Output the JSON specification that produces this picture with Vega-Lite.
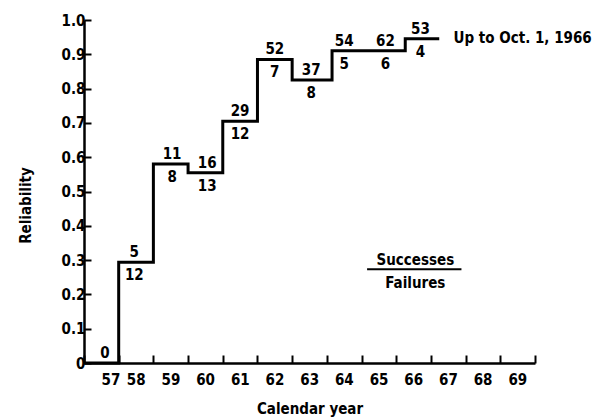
{
  "$schema": "https://vega.github.io/schema/vega-lite/v6.json",
  "width": 451,
  "height": 343,
  "autosize": "none",
  "padding": {"left": 84, "top": 20, "right": 63, "bottom": 56},
  "background": "white",
  "config": {
    "view": {"stroke": null},
    "font": "DejaVu Sans Condensed",
    "axis": {
      "domainColor": "black", "domainWidth": 2.5, "tickColor": "black", "tickWidth": 2,
      "labelColor": "black", "labelFont": "DejaVu Sans Condensed", "labelFontWeight": "bold", "labelFontSize": 15,
      "titleColor": "black", "titleFont": "DejaVu Sans Condensed", "titleFontWeight": "bold", "titleFontSize": 15,
      "grid": false, "labelOverlap": false
    }
  },
  "datasets": {
    "steps": [
      {"year": 56.5, "rel": 0},
      {"year": 57.5, "rel": 0.294},
      {"year": 58.5, "rel": 0.58},
      {"year": 59.5, "rel": 0.555},
      {"year": 60.5, "rel": 0.705},
      {"year": 61.5, "rel": 0.885},
      {"year": 62.5, "rel": 0.825},
      {"year": 63.65, "rel": 0.91},
      {"year": 65.76, "rel": 0.945},
      {"year": 66.74, "rel": 0.945}
    ],
    "labels": [
      {"year": 57.1, "rel": 0, "succ": "0", "fail": ""},
      {"year": 57.95, "rel": 0.294, "succ": "5", "fail": "12"},
      {"year": 59.04, "rel": 0.58, "succ": "11", "fail": "8"},
      {"year": 60.05, "rel": 0.555, "succ": "16", "fail": "13"},
      {"year": 61.0, "rel": 0.705, "succ": "29", "fail": "12"},
      {"year": 62.0, "rel": 0.885, "succ": "52", "fail": "7"},
      {"year": 63.05, "rel": 0.825, "succ": "37", "fail": "8"},
      {"year": 64.0, "rel": 0.91, "succ": "54", "fail": "5"},
      {"year": 65.19, "rel": 0.91, "succ": "62", "fail": "6"},
      {"year": 66.2, "rel": 0.945, "succ": "53", "fail": "4"}
    ],
    "note": [
      {"year": 67.15, "rel": 0.947, "text": "Up to Oct. 1, 1966"}
    ],
    "key": [
      {"year": 66.05, "rel": 0.30, "text": "Successes"},
      {"year": 66.05, "rel": 0.234, "text": "Failures"}
    ],
    "bar": [
      {"year": 64.66, "year2": 67.38, "rel": 0.273}
    ]
  },
  "encoding": {
    "x": {
      "field": "year", "type": "quantitative",
      "scale": {"domain": [56.5, 69.5], "nice": false, "zero": false},
      "axis": {
        "title": "Calendar year",
        "values": [56.5, 57.5, 58.5, 59.5, 60.5, 61.5, 62.5, 63.5, 64.5, 65.5, 66.5, 67.5, 68.5, 69.5],
        "labelExpr": "datum.value < 69 ? format(datum.value + 0.5, 'd') : ''",
        "labelOffset": 17,
        "tickSize": -8,
        "labelPadding": 17,
        "titleY": 50,
        "titleBaseline": "alphabetic"
      }
    },
    "y": {
      "field": "rel", "type": "quantitative",
      "scale": {"domain": [0, 1], "nice": false},
      "axis": {
        "title": "Reliability",
        "values": [0, 0.1, 0.2, 0.3, 0.4, 0.5, 0.6, 0.7, 0.8, 0.9, 1.0],
        "labelExpr": "datum.value == 0 ? '0' : format(datum.value, '.1f')",
        "tickSize": -7,
        "labelPadding": 6,
        "titleAngle": 270,
        "titleX": -59,
        "titleY": 185,
        "titleAlign": "center",
        "titleBaseline": "middle"
      }
    }
  },
  "layer": [
    {
      "data": {"name": "steps"},
      "mark": {"type": "line", "interpolate": "step-after", "color": "black", "strokeWidth": 3}
    },
    {
      "data": {"name": "labels"},
      "mark": {"type": "text", "font": "DejaVu Sans Condensed", "fontWeight": "bold", "fontSize": 15, "color": "black", "dy": -10, "baseline": "middle"},
      "encoding": {"text": {"field": "succ"}}
    },
    {
      "data": {"name": "labels"},
      "mark": {"type": "text", "font": "DejaVu Sans Condensed", "fontWeight": "bold", "fontSize": 15, "color": "black", "dy": 13, "baseline": "middle"},
      "encoding": {"text": {"field": "fail"}}
    },
    {
      "data": {"name": "note"},
      "mark": {"type": "text", "font": "DejaVu Sans Condensed", "fontWeight": "bold", "fontSize": 15, "color": "black", "baseline": "middle", "align": "left"},
      "encoding": {"text": {"field": "text"}}
    },
    {
      "data": {"name": "key"},
      "mark": {"type": "text", "font": "DejaVu Sans Condensed", "fontWeight": "bold", "fontSize": 15, "color": "black", "baseline": "middle", "align": "center"},
      "encoding": {"text": {"field": "text"}}
    },
    {
      "data": {"name": "bar"},
      "mark": {"type": "rule", "color": "black", "strokeWidth": 2},
      "encoding": {"x2": {"field": "year2"}}
    }
  ]
}
